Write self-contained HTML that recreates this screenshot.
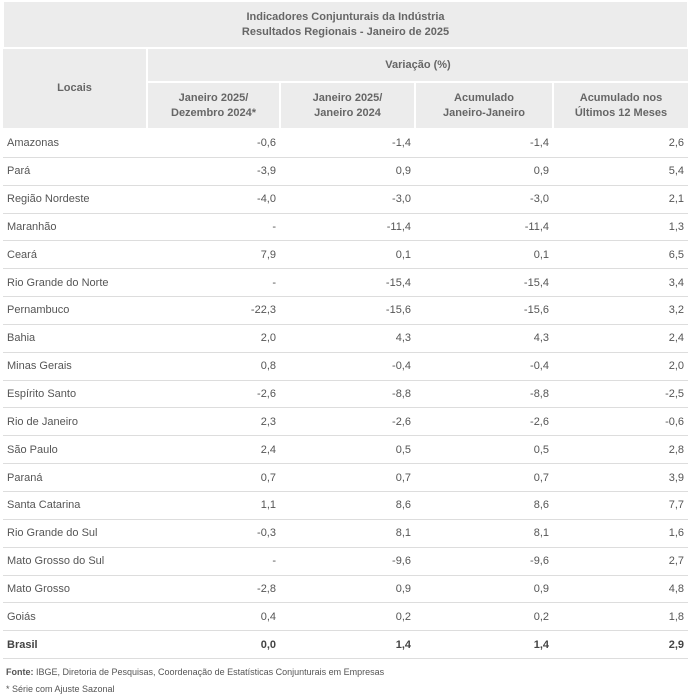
<!DOCTYPE html>
<html><head><meta charset="utf-8"><style>
body{margin:0;background:#fff;width:689px;height:698px;overflow:hidden;font-family:"Liberation Sans",sans-serif;color:#555;}
table{position:absolute;left:2px;top:2px;width:685px;border-collapse:collapse;table-layout:fixed;font-size:11px;}
th{background:#ececec;color:#666;font-weight:bold;font-size:11px;line-height:15px;border:2px solid #fff;border-top:none;padding:0;}
td{height:26.85px;padding:0 4px;border-bottom:1px solid #ddd;text-align:right;line-height:14px;}
td:first-child{text-align:left;padding-left:4px;}
tr.b td{font-weight:bold;color:#444;}
.note{position:absolute;left:6px;font-size:9px;color:#555;}
</style></head><body>
<table>
<colgroup><col style="width:144px"><col style="width:133px"><col style="width:135px"><col style="width:138px"><col style="width:135px"></colgroup>
<tr><th colspan="5" style="height:45px">Indicadores Conjunturais da Indústria<br>Resultados Regionais - Janeiro de 2025</th></tr>
<tr><th rowspan="2" style="border-left:none">Locais</th><th colspan="4" style="height:32px;border-right:none">Variação (%)</th></tr>
<tr style="height:47px"><th>Janeiro 2025/<br>Dezembro 2024*</th><th>Janeiro 2025/<br>Janeiro 2024</th><th>Acumulado<br>Janeiro-Janeiro</th><th style="border-right:none">Acumulado nos<br>Últimos 12 Meses</th></tr>
<tbody id="tb"></tbody>
</table>
<div class="note" style="top:667px"><b>Fonte:</b> IBGE, Diretoria de Pesquisas, Coordenação de Estatísticas Conjunturais em Empresas</div>
<div class="note" style="top:684px">* Série com Ajuste Sazonal</div>
<script>
const locais=["Amazonas","Pará","Região Nordeste","Maranhão","Ceará","Rio Grande do Norte","Pernambuco","Bahia","Minas Gerais","Espírito Santo","Rio de Janeiro","São Paulo","Paraná","Santa Catarina","Rio Grande do Sul","Mato Grosso do Sul","Mato Grosso","Goiás","Brasil"];
const janDez=["-0,6","-3,9","-4,0","-","7,9","-","-22,3","2,0","0,8","-2,6","2,3","2,4","0,7","1,1","-0,3","-","-2,8","0,4","0,0"];
const janJan=["-1,4","0,9","-3,0","-11,4","0,1","-15,4","-15,6","4,3","-0,4","-8,8","-2,6","0,5","0,7","8,6","8,1","-9,6","0,9","0,2","1,4"];
const acum=["-1,4","0,9","-3,0","-11,4","0,1","-15,4","-15,6","4,3","-0,4","-8,8","-2,6","0,5","0,7","8,6","8,1","-9,6","0,9","0,2","1,4"];
const doze=["2,6","5,4","2,1","1,3","6,5","3,4","3,2","2,4","2,0","-2,5","-0,6","2,8","3,9","7,7","1,6","2,7","4,8","1,8","2,9"];
const tb=document.getElementById('tb');
locais.forEach((l,i)=>{
 const tr=document.createElement('tr');
 
 
 if(i===locais.length-1)tr.className='b';
 [l,janDez[i],janJan[i],acum[i],doze[i]].forEach(v=>{const td=document.createElement('td');td.textContent=v;
 
 
 tr.appendChild(td);});
 tb.appendChild(tr);
});
</script>
</body></html>
